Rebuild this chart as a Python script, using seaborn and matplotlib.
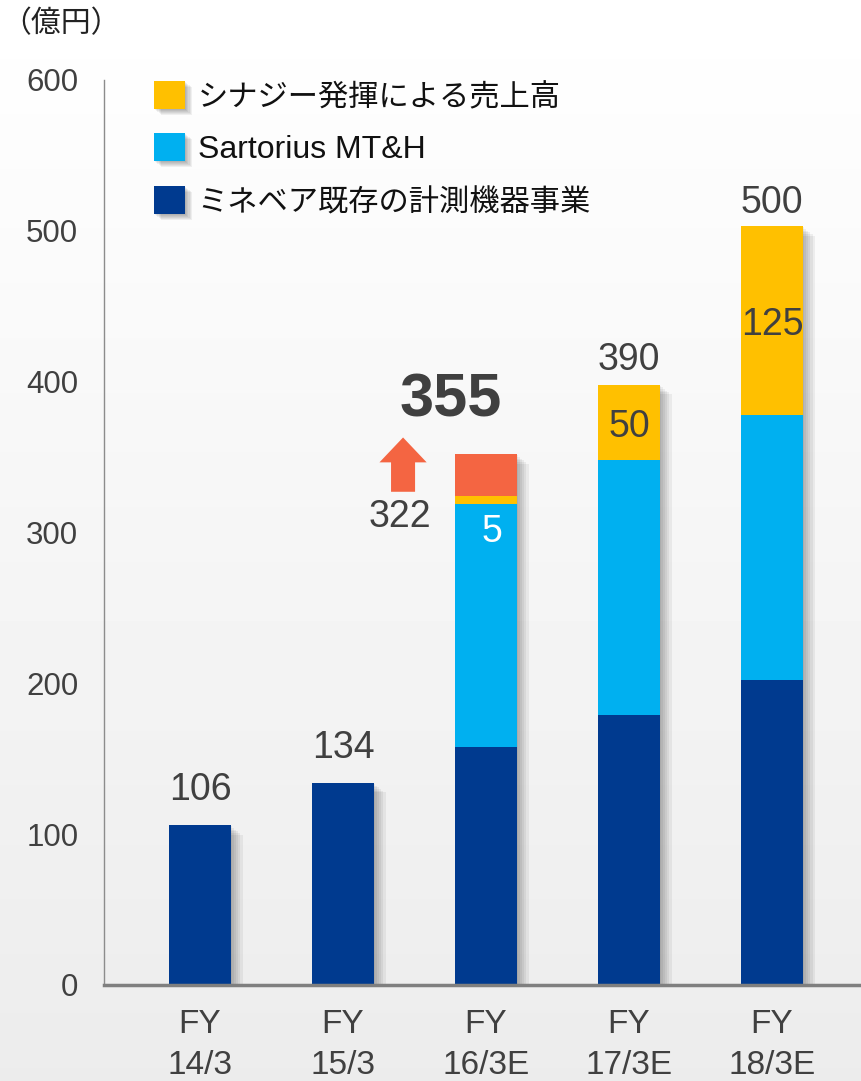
import matplotlib
matplotlib.use("Agg")
import matplotlib.pyplot as plt
import matplotlib.patheffects as pe
from matplotlib.patches import Patch
import numpy as np
import pandas as pd
import seaborn as sns

# data (億円)
periods = ["FY\n14/3", "FY\n15/3", "FY\n16/3E", "FY\n17/3E", "FY\n18/3E"]
minebea = [106, 134, 158, 179, 202]
sartorius = [0, 0, 161, 169, 176]
synergy = [0, 0, 5, 50, 125]
upside = [0, 0, 28, 0, 0]

total_labels = ["106", "134", "", "390", "500"]
synergy_labels = ["", "", "5", "50", "125"]
forecast_before = 322
forecast_after = 355

legend_labels = ["シナジー発揮による売上高", "Sartorius MT&H", "ミネベア既存の計測機器事業"]

NAVY = "#003a8f"
BLUE = "#00b0f0"
YELLOW = "#ffc000"
ORANGE = "#f46542"
GRAY = "#404040"

sns.set_style("white")
plt.rcParams["font.family"] = ["Liberation Sans", "Noto Sans CJK JP", "DejaVu Sans"]

df = pd.DataFrame({"period": periods, "minebea": minebea, "sartorius": sartorius,
                   "synergy": synergy, "upside": upside})
df["c1"] = df["minebea"]
df["c2"] = df["c1"] + df["sartorius"]
df["c3"] = df["c2"] + df["synergy"]
df["c4"] = df["c3"] + df["upside"]


def soft_shadow(scale=1.0):
    # a few faint offset copies to fake a blurred drop shadow
    return [pe.SimplePatchShadow(offset=(o * scale, -o * 0.8 * scale), shadow_rgbFace="black",
                                 alpha=0.055) for o in (1, 2.5, 4, 5.5, 7, 8.5)]


fig = plt.figure(figsize=(8.61, 10.81), dpi=100)

# soft vertical gradient background
bg = fig.add_axes([0, 0, 1, 1], zorder=-10)
grad = np.linspace(1.0, 0.925, 256).reshape(-1, 1)
bg.imshow(grad, aspect="auto", cmap="gray", vmin=0, vmax=1, extent=[0, 1, 0, 1])
bg.axis("off")

ax = fig.add_axes([104 / 861, 96 / 1081, 757 / 861, 905 / 1081])
ax.set_facecolor("none")

W = 0.43
# shadow silhouette
n0 = len(ax.patches)
sns.barplot(data=df, x="period", y="c4", order=periods, color="white", width=W,
            saturation=1, errorbar=None, ax=ax)
for p in ax.patches[n0:]:
    p.set_facecolor("none")
    p.set_edgecolor("none")
    p.set_path_effects(soft_shadow())

layers = [("c4", "upside", ORANGE), ("c3", "synergy", YELLOW),
          ("c2", "sartorius", BLUE), ("c1", "minebea", NAVY)]
for col, seg, color in layers:
    sub = df[df[seg] > 0]
    sns.barplot(data=sub, x="period", y=col, order=periods, color=color, width=W,
                saturation=1, errorbar=None, linewidth=0, ax=ax)

ax.set_xlim(-0.671, 4.622)
ax.set_ylim(0, 600)
ax.set_yticks(range(0, 601, 100))
ax.set_xlabel("")
ax.set_ylabel("")
for s in ["top", "right"]:
    ax.spines[s].set_visible(False)
ax.spines["left"].set_color("#8c8c8c")
ax.spines["left"].set_linewidth(1.0)
ax.spines["bottom"].set_color("#7f7f7f")
ax.spines["bottom"].set_linewidth(2.5)
ax.tick_params(axis="y", direction="out", length=7.5, width=1, color="#8c8c8c",
               pad=11, labelsize=22.5, labelcolor=GRAY)
ax.tick_params(axis="x", length=0, pad=17, labelsize=24, labelcolor=GRAY)
plt.setp(ax.get_xticklabels(), linespacing=1.45)

# value labels
label_lift = [12.5, 12.5, 0, 5, 4]
for i, lab in enumerate(total_labels):
    if lab:
        ax.annotate(lab, (i, df["c4"][i]), xytext=(0, label_lift[i]), textcoords="offset points",
                    ha="center", va="bottom", fontsize=27, color=GRAY)
for i, lab in enumerate(synergy_labels):
    if not lab:
        continue
    if synergy[i] >= 20:
        ax.text(i, df["c2"][i] + synergy[i] / 2 - 3, lab, ha="center", va="center",
                fontsize=27, color=GRAY)
    else:
        ax.text(i + 0.04, df["c2"][i] - 19, lab, ha="center", va="center",
                fontsize=27, color="white")

# revision annotation for FY16/3E
ax.text(1.75, forecast_after + 32, str(forecast_after), ha="center", va="center",
        fontsize=44, fontweight="bold", color=GRAY)
ax.text(1.40, forecast_before - 12, str(forecast_before), ha="center", va="center",
        fontsize=27, color=GRAY)
ax.arrow(1.42, forecast_before + 5, 0, forecast_after - forecast_before + 3, width=0.168,
         head_width=0.33, head_length=16.5, length_includes_head=True,
         color=ORANGE, linewidth=0)

handles = [Patch(facecolor=c, edgecolor="none", label=l, path_effects=soft_shadow(0.6) + [pe.Normal()])
           for c, l in zip([YELLOW, BLUE, NAVY], legend_labels)]
leg = ax.legend(handles=handles, loc="upper left", bbox_to_anchor=(154 / 861, 1 - 81 / 1081),
                bbox_transform=fig.transFigure, frameon=False, fontsize=23,
                handlelength=0.97, handleheight=0.97, handletextpad=0.4,
                labelspacing=0.66, borderpad=0, borderaxespad=0)
for t in leg.get_texts():
    t.set_color("#111111")
    if not t.get_text().isascii():
        t.set_fontsize(21.8)

fig.text(1 / 861, 1 - 24 / 1081, "（億円）", ha="left", va="center", fontsize=21.5,
         color="#222222", family=["Noto Sans CJK JP"])

fig.savefig("out.png", dpi=100)
